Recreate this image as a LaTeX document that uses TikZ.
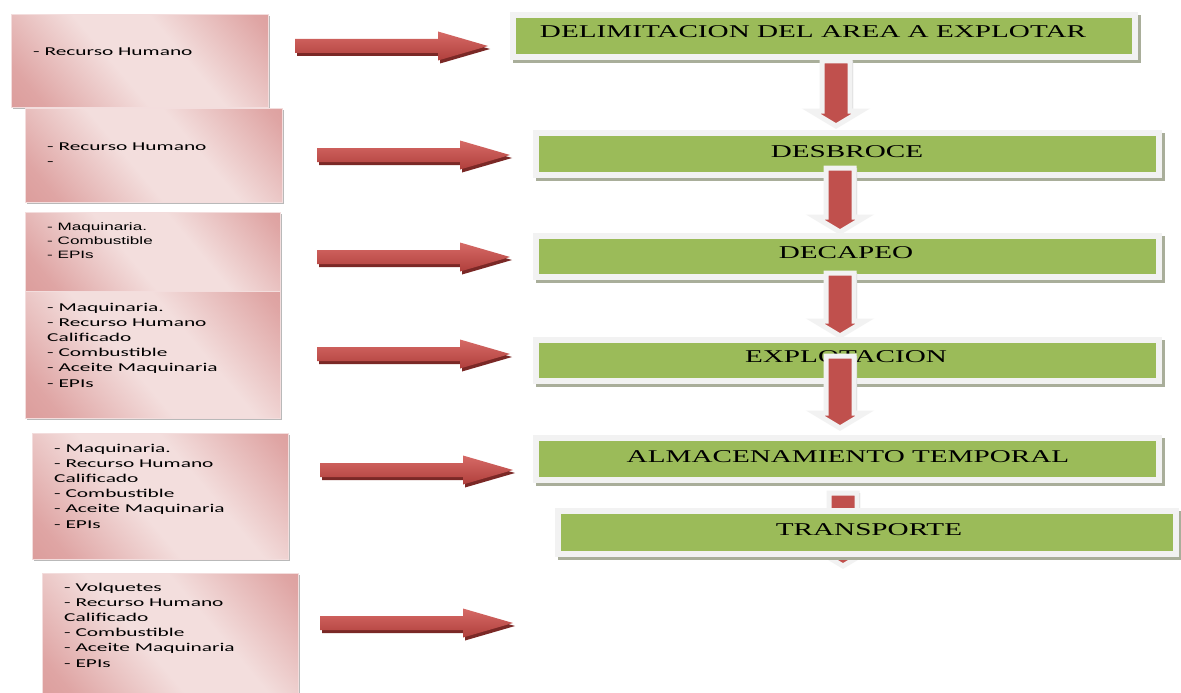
\documentclass[tikz,border=0pt]{standalone}
\usepackage{fontspec}
\newfontfamily\gfont[FakeStretch=1.62]{Liberation Serif}
\newfontfamily\lfont[FakeStretch=1.78]{Carlito}
\newfontfamily\afont[FakeStretch=1.6]{Liberation Sans}
\definecolor{gbox}{HTML}{9BBB59}
\definecolor{rarr}{HTML}{C0504D}
\definecolor{rarrL}{HTML}{D66A66}
\definecolor{rarrD}{HTML}{B03F3C}
\definecolor{rshadow}{HTML}{7A2826}
\definecolor{pinkD}{HTML}{D68E8C}
\definecolor{pinkM}{HTML}{DFA5A4}
\definecolor{pinkL}{HTML}{F3DEDD}
\definecolor{gborder}{HTML}{F2F2F2}
\definecolor{gshadow}{HTML}{A9AE9A}
\pgfdeclarehorizontalshading{pinkshade}{100bp}{color(0bp)=(pinkD); color(22bp)=(pinkM); color(44bp)=(pinkL); color(60bp)=(pinkL); color(82bp)=(pinkM); color(100bp)=(pinkD)}
\tikzset{
  pinkbox/.style={shading=pinkshade, shading angle=40,
    draw=white!70!pinkD, line width=1.2pt, inner sep=0pt, anchor=north west},
  pinkshadow/.style={fill=gray!55, draw=none, inner sep=0pt, anchor=north west},
  greenbox/.style={fill=gbox, draw=gborder, line width=6pt, inner sep=0pt},
  greenshadow/.style={fill=gshadow, draw=none, inner sep=0pt},
  gtext/.style={anchor=base, inner sep=0pt, font=\gfont\fontsize{18}{20}\selectfont},
  ltext/.style={anchor=base west, inner sep=0pt},
  downarr/.style={fill=rarr, draw=gborder, line width=5pt, line join=miter},
}
\newcommand\ltab[4]{{#1\fontsize{#2}{#3}\selectfont\begin{tabular}[t]{@{}l@{}}#4\end{tabular}}}
\newcommand\rarrow[4]{% name, x1, x2, y
  \coordinate (#1s) at (#2,#4);
  \coordinate (#1e) at (#3,#4);
  \fill[rshadow] ({#2+2},{#4-7+3}) -- ({#3-50+2},{#4-7+3}) -- ({#3-50+2},{#4-14.5+3}) -- ({#3+2},{#4+3})
     -- ({#3-50+2},{#4+14.5+3}) -- ({#3-50+2},{#4+7+3}) -- ({#2+2},{#4+7+3}) -- cycle;
  \shade[top color=rarrL, bottom color=rarrD] (#1s) ++(0,-7) -- ({#3-50},{#4-7}) -- ({#3-50},{#4-14.5}) -- (#1e)
     -- ({#3-50},{#4+14.5}) -- ({#3-50},{#4+7}) -- ({#2},{#4+7}) -- cycle;
}
\newcommand\darrow[4]{% name, x, ytop, ytip
  \coordinate (#1s) at (#2,#3);
  \coordinate (#1e) at (#2,#4);
  \fill[gray!40] ({#2-14+3},{#3}) -- ({#2+14+3},{#3}) -- ({#2+14+3},{#4-15}) -- ({#2+3},{#4-15}) -- cycle;
  \filldraw[downarr] ({#2-14},{#3}) -- ({#2+14},{#3}) -- ({#2+14},{#4-15}) -- ({#2+25},{#4-15}) -- (#1e)
     -- ({#2-25},{#4-15}) -- ({#2-14},{#4-15}) -- cycle;
}
\begin{document}
\begin{tikzpicture}[x=1pt, y=-1pt]
\useasboundingbox (0,0) rectangle (1181,693);
\fill[white] (0,0) rectangle (1181,693);

% ---------- left resource boxes ----------
\node[pinkshadow, minimum width=257pt, minimum height=93pt] (L1s) at (13,16) {};
\node[pinkbox, minimum width=257pt, minimum height=93pt] (L1) at (11,14) {};
\node[ltext] (LT1) at (33,56) {\ltab{\lfont}{12}{15.2}{- Recurso Humano}};

\node[pinkshadow, minimum width=257pt, minimum height=94pt] (L2s) at (27,110) {};
\node[pinkbox, minimum width=257pt, minimum height=94pt] (L2) at (25,108) {};
\node[ltext] (LT2) at (47,150) {\ltab{\lfont}{12}{15.2}{- Recurso Humano\\ -}};

\node[pinkshadow, minimum width=255pt, minimum height=79pt] (L3s) at (27,214) {};
\node[pinkbox, minimum width=255pt, minimum height=79pt] (L3) at (25,212) {};
\node[ltext] (LT3) at (47,230) {\ltab{\afont}{10.7}{14}{- Maquinaria.\\ - Combustible\\ - EPIs}};

\node[pinkshadow, minimum width=255pt, minimum height=127pt] (L4s) at (27,293) {};
\node[pinkbox, minimum width=255pt, minimum height=127pt] (L4) at (25,291) {};
\node[ltext] (LT4) at (47,311) {\ltab{\lfont}{12}{15.2}{- Maquinaria.\\ - Recurso Humano\\ Calificado\\ - Combustible\\ - Aceite Maquinaria\\ - EPIs}};

\node[pinkshadow, minimum width=256pt, minimum height=126pt] (L5s) at (34,435) {};
\node[pinkbox, minimum width=256pt, minimum height=126pt] (L5) at (32,433) {};
\node[ltext] (LT5) at (54,452) {\ltab{\lfont}{12}{15.2}{- Maquinaria.\\ - Recurso Humano\\ Calificado\\ - Combustible\\ - Aceite Maquinaria\\ - EPIs}};

\node[pinkshadow, minimum width=256pt, minimum height=130pt] (L6s) at (44,575) {};
\node[pinkbox, minimum width=256pt, minimum height=130pt] (L6) at (42,573) {};
\node[ltext] (LT6) at (64,591) {\ltab{\lfont}{12}{15.2}{- Volquetes\\ - Recurso Humano\\ Calificado\\ - Combustible\\ - Aceite Maquinaria\\ - EPIs}};

% ---------- horizontal arrows ----------
\rarrow{R1}{295}{488}{46}
\rarrow{R2}{317}{510}{155}
\rarrow{R3}{317}{510}{257}
\rarrow{R4}{317}{510}{354}
\rarrow{R5}{320}{513}{470}
\rarrow{R6}{320}{513}{623}

% ---------- process boxes and down arrows ----------
\node[greenshadow, minimum width=628pt, minimum height=48pt] (G1s) at (827,39) {};
\node[greenbox, minimum width=622pt, minimum height=42pt] (G1) at (824,36) {};
\node[gtext] (T1) at (813,38) {DELIMITACION DEL AREA A EXPLOTAR};
\darrow{A1}{836}{61}{126}

\node[greenshadow, minimum width=629pt, minimum height=48pt] (G2s) at (850.5,157) {};
\node[greenbox, minimum width=623pt, minimum height=42pt] (G2) at (847.5,154) {};
\node[gtext] (T2) at (847,157) {DESBROCE};
\darrow{A2}{840}{168}{232}

\node[greenshadow, minimum width=629pt, minimum height=47pt] (G3s) at (850.5,259.5) {};
\node[greenbox, minimum width=623pt, minimum height=41pt] (G3) at (847.5,256.5) {};
\node[gtext] (T3) at (846,258) {DECAPEO};
\darrow{A3}{840}{273}{336}

\node[greenshadow, minimum width=629pt, minimum height=47pt] (G4s) at (850.5,363.5) {};
\node[greenbox, minimum width=623pt, minimum height=41pt] (G4) at (847.5,360.5) {};
\node[gtext] (T4) at (846,362) {EXPLOTACION};
\darrow{A4}{840}{356}{428}

\node[greenshadow, minimum width=629pt, minimum height=48pt] (G5s) at (850.5,462) {};
\node[greenbox, minimum width=623pt, minimum height=42pt] (G5) at (847.5,459) {};
\node[gtext] (T5) at (848,462) {ALMACENAMIENTO TEMPORAL};
\darrow{A5}{843}{493}{566}

\node[greenshadow, minimum width=624pt, minimum height=49pt] (G6s) at (870,535.5) {};
\node[greenbox, minimum width=618pt, minimum height=43pt] (G6) at (867,532.5) {};
\node[gtext] (T6) at (869,535) {TRANSPORTE};
\end{tikzpicture}
\end{document}
